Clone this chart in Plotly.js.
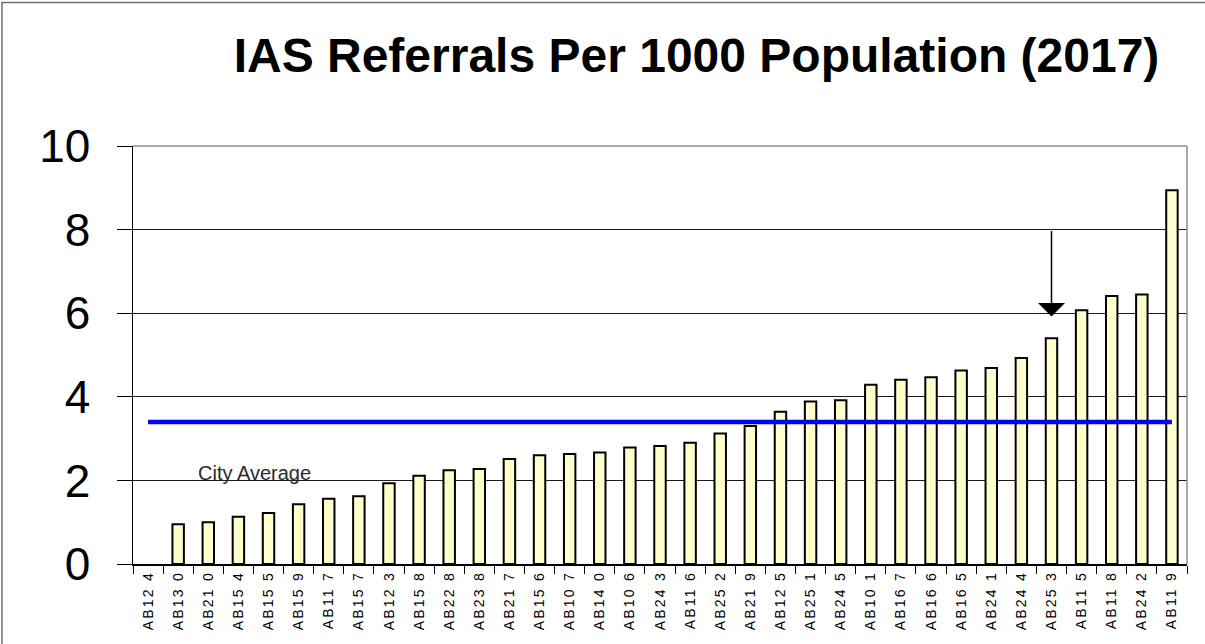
<!DOCTYPE html>
<html>
<head>
<meta charset="utf-8">
<script src="https://cdn.plot.ly/plotly-3.0.1.min.js"></script>
<style>
  html, body { margin: 0; padding: 0; background: #fff; }
  #chart { width: 1205px; height: 644px; }
  .xtick text { letter-spacing: 2.2px; }
</style>
</head>
<body>
<div id="chart"></div>
<script>
// Data
const sectors = ["AB12 4","AB13 0","AB21 0","AB15 4","AB15 5","AB15 9","AB11 7","AB15 7","AB12 3","AB15 8",
  "AB22 8","AB23 8","AB21 7","AB15 6","AB10 7","AB14 0","AB10 6","AB24 3","AB11 6","AB25 2",
  "AB21 9","AB12 5","AB25 1","AB24 5","AB10 1","AB16 7","AB16 6","AB16 5","AB24 1","AB24 4",
  "AB25 3","AB11 5","AB11 8","AB24 2","AB11 9"];
const referrals = [null, 0.95, 1.00, 1.13, 1.22, 1.43, 1.56, 1.62, 1.93, 2.11,
  2.24, 2.27, 2.51, 2.60, 2.63, 2.67, 2.79, 2.82, 2.90, 3.12,
  3.30, 3.64, 3.89, 3.92, 4.29, 4.41, 4.47, 4.63, 4.69, 4.93,
  5.40, 6.07, 6.41, 6.45, 8.94];
const cityAverage = 3.40;
const averageLabel = "City Average";
const highlightedSector = "AB25 3";
const arrowFrom = 8;
const arrowTo = 5.92;
const yTicks = [0, 2, 4, 6, 8, 10];
const titleText = "IAS Referrals Per 1000 Population (2017)";

const font = "Liberation Sans, Arial, sans-serif";

const bars = {
  type: "bar",
  x: sectors,
  y: referrals,
  width: 0.38,
  marker: { color: "#FFFFCC", line: { color: "#000000", width: 2 } },
  hoverinfo: "x+y",
  showlegend: false
};

const avgLine = {
  type: "scatter",
  mode: "lines",
  x: [sectors[0], sectors[sectors.length - 1]],
  y: [cityAverage, cityAverage],
  line: { color: "#0000FF", width: 4.5 },
  hoverinfo: "y",
  showlegend: false
};

const hiIdx = sectors.indexOf(highlightedSector);

const layout = {
  width: 1205,
  height: 644,
  margin: { l: 133, r: 18, t: 146, b: 80, pad: 0 },
  paper_bgcolor: "#ffffff",
  plot_bgcolor: "#ffffff",
  showlegend: false,
  title: {
    text: "<b>" + titleText + "</b>",
    font: { family: font, size: 48, color: "#000000" },
    xref: "container", x: 696.5 / 1205, xanchor: "center",
    yref: "container", y: 1 - 55 / 644, yanchor: "middle"
  },
  xaxis: {
    type: "category",
    range: [-0.5, sectors.length - 0.5],
    tickangle: -90,
    tickfont: { family: font, size: 14, color: "#000000" },
    ticks: "outside",
    tickson: "boundaries",
    ticklen: 8,
    tickcolor: "#000000",
    tickwidth: 1,
    showline: true,
    linecolor: "#000000",
    linewidth: 1.5,
    showgrid: false,
    zeroline: false,
    automargin: false,
    ticklabelstandoff: 0
  },
  yaxis: {
    range: [0, 10],
    tickvals: yTicks,
    ticktext: yTicks.map(String),
    tickfont: { family: font, size: 46, color: "#000000" },
    ticks: "outside",
    ticklen: 15,
    tickcolor: "#000000",
    tickwidth: 1,
    ticklabelstandoff: 17,
    showline: true,
    linecolor: "#000000",
    linewidth: 1.5,
    showgrid: true,
    gridcolor: "#1a1a1a",
    gridwidth: 1,
    zeroline: false,
    automargin: false
  },
  shapes: [
    { type: "line", xref: "paper", yref: "paper", x0: 0, x1: 1, y0: 1, y1: 1,
      line: { color: "#8c8c8c", width: 1.5 }, layer: "above" },
    { type: "line", xref: "paper", yref: "paper", x0: 1, x1: 1, y0: 0, y1: 1,
      line: { color: "#8c8c8c", width: 1.5 }, layer: "above" },
    { type: "rect", xref: "paper", yref: "paper",
      x0: (2 - 133) / 1054, x1: (1215 - 133) / 1054,
      y0: (564 - 655) / 418, y1: (564 - 2.5) / 418,
      line: { color: "#6e6e6e", width: 1.5 }, fillcolor: "rgba(0,0,0,0)", layer: "above" }
  ],
  annotations: [
    {
      text: averageLabel,
      x: 3.55, y: 2.18, xref: "x", yref: "y",
      showarrow: false,
      xanchor: "center", yanchor: "middle",
      font: { family: font, size: 20, color: "#2a2a2a" }
    },
    {
      text: "",
      x: hiIdx, y: arrowTo, xref: "x", yref: "y",
      ax: hiIdx, ay: arrowFrom, axref: "x", ayref: "y",
      showarrow: true,
      arrowhead: 1, arrowsize: 3, arrowwidth: 1.5, arrowcolor: "#000000",
      standoff: 0, startstandoff: 0
    }
  ]
};

Plotly.newPlot("chart", [bars, avgLine], layout, { displayModeBar: false, staticPlot: true });
</script>
</body>
</html>
